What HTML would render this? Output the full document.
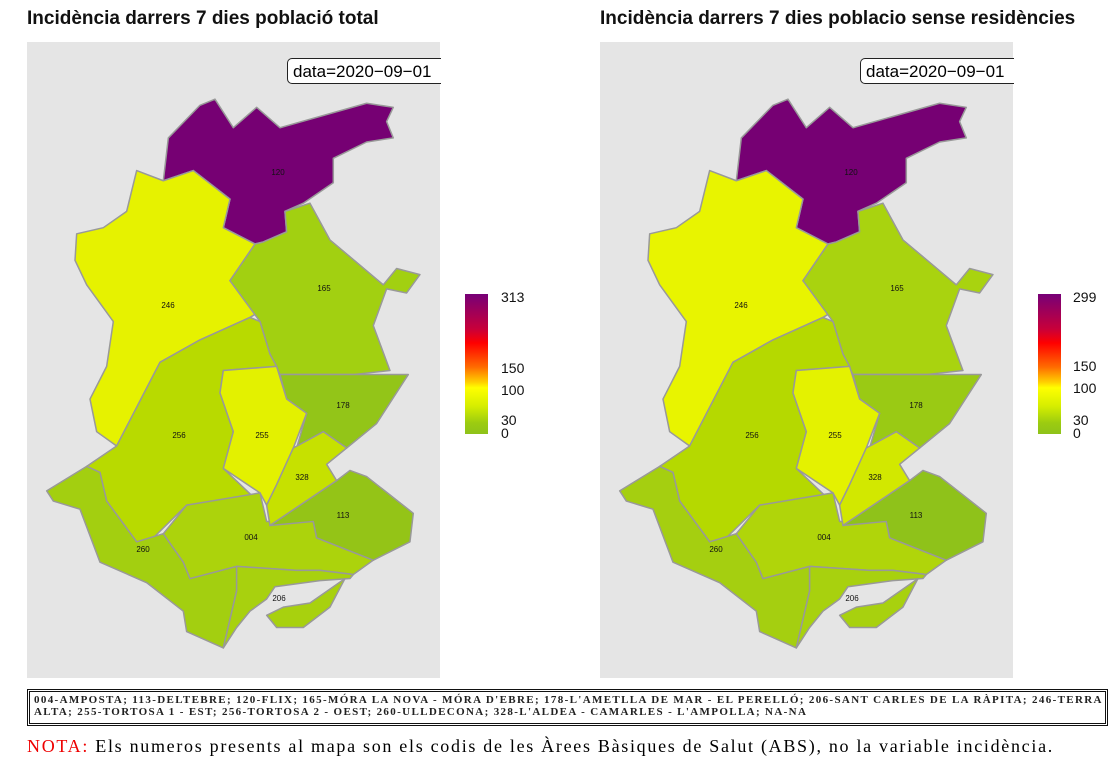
<!DOCTYPE html>
<html><head><meta charset="utf-8"><style>
body{margin:0;width:1114px;height:776px;background:#fff;position:relative;overflow:hidden;font-family:"Liberation Sans",sans-serif}
.t{position:absolute;top:8px;font-size:19px;font-weight:bold;color:#111}
.panel{position:absolute;top:42px;width:413px;height:636px;background:#e5e5e5}
.db{position:absolute;top:58px;height:26px;border:1.5px solid #222;border-right:none;border-radius:5px 0 0 5px;background:#fff;font-size:17px;line-height:25px;padding-left:5px;box-sizing:border-box;width:154px;white-space:nowrap;overflow:hidden}
.cb{position:absolute;top:294px;width:23px;height:140px;background:linear-gradient(to bottom,#770077 0%,#c8003a 25%,#ff0000 35%,#ff6a00 52%,#ffd000 63%,#ffff00 67%,#d6ee00 80%,#9ccc10 92%,#8ec21a 100%)}
.lb{position:absolute;font-size:14px;color:#111;line-height:14px}
.foot{position:absolute;left:27px;top:689px;width:1081px;height:37px;border:3px double #111;box-sizing:border-box;font-family:"Liberation Serif",serif;font-size:11px;line-height:11.5px;padding:3px 4px;letter-spacing:1.35px;white-space:nowrap;font-weight:bold;color:#222;overflow:hidden}
.nota{position:absolute;left:27px;top:736px;font-family:"Liberation Serif",serif;font-size:18px;letter-spacing:1.7px;white-space:nowrap}
svg{position:absolute;left:0;top:0}
</style></head><body>
<div class="t" style="left:27px">Incidència darrers 7 dies població total</div>
<div class="t" style="left:600px">Incidència darrers 7 dies poblacio sense residències</div>
<div class="panel" style="left:27px"></div>
<div class="panel" style="left:600px"></div>
<svg width="1114" height="776">
<g transform="translate(20,40) scale(0.3333,0.408)" stroke="#999" stroke-width="1.5" stroke-linejoin="round">
<polygon vector-effect="non-scaling-stroke" fill="#760073" points="430,345 445,240 540,160 585,145 640,215 710,165 780,215 1040,155 1120,165 1100,200 1120,240 1040,250 940,290 940,350 850,400 795,420 800,470 730,495 705,500 610,460 630,390 520,320"/>
<polygon vector-effect="non-scaling-stroke" fill="#e6f200" points="430,345 350,320 320,420 250,460 170,475 165,540 200,600 280,690 260,800 210,880 230,960 290,995 420,790 540,735 690,680 720,665 630,590 705,500 610,460 630,390 520,320"/>
<polygon vector-effect="non-scaling-stroke" fill="#a2d011" points="705,500 730,495 800,470 795,420 870,400 930,490 1090,600 1130,560 1200,575 1160,620 1100,610 1060,700 1110,810 1000,820 780,820 750,770 720,690 630,590"/>
<polygon vector-effect="non-scaling-stroke" fill="#b8da00" points="290,995 420,790 540,735 690,680 720,690 750,770 770,800 610,810 600,865 640,960 610,1050 700,1120 500,1140 400,1220 350,1230 260,1130 240,1060 200,1045"/>
<polygon vector-effect="non-scaling-stroke" fill="#93c518" points="780,820 1000,820 1165,820 1070,940 980,1000 910,960 830,1000 860,915 800,880"/>
<polygon vector-effect="non-scaling-stroke" fill="#e3f100" points="610,810 770,800 800,880 860,915 820,1000 770,1090 740,1140 720,1110 610,1050 640,960 600,865"/>
<polygon vector-effect="non-scaling-stroke" fill="#a3cf10" points="200,1045 110,1090 80,1105 100,1130 180,1150 240,1280 380,1330 490,1400 500,1450 610,1490 650,1350 650,1290 510,1320 490,1280 430,1210 350,1230 260,1130 240,1060"/>
<polygon vector-effect="non-scaling-stroke" fill="#acd30c" points="430,1210 500,1140 720,1110 740,1180 880,1180 890,1220 1060,1275 1000,1310 900,1300 830,1300 650,1290 510,1320 490,1280"/>
<polygon vector-effect="non-scaling-stroke" fill="#c6e100" points="770,1090 820,1000 910,960 980,1000 920,1040 950,1080 750,1190 740,1140"/>
<polygon vector-effect="non-scaling-stroke" fill="#94c417" points="950,1080 990,1055 1040,1070 1180,1160 1170,1230 1060,1275 890,1220 880,1180 750,1190"/>
<polygon vector-effect="non-scaling-stroke" fill="#a8d10e" points="650,1290 830,1300 900,1300 1000,1310 990,1320 900,1325 765,1340 740,1370 690,1400 650,1440 610,1490 650,1350"/>
<polygon vector-effect="non-scaling-stroke" fill="#a8d10e" points="740,1410 790,1390 870,1380 940,1340 975,1320 930,1390 850,1440 770,1440"/>
</g>
<g transform="translate(593,40) scale(0.3333,0.408)" stroke="#999" stroke-width="1.5" stroke-linejoin="round">
<polygon vector-effect="non-scaling-stroke" fill="#760073" points="430,345 445,240 540,160 585,145 640,215 710,165 780,215 1040,155 1120,165 1100,200 1120,240 1040,250 940,290 940,350 850,400 795,420 800,470 730,495 705,500 610,460 630,390 520,320"/>
<polygon vector-effect="non-scaling-stroke" fill="#e8f400" points="430,345 350,320 320,420 250,460 170,475 165,540 200,600 280,690 260,800 210,880 230,960 290,995 420,790 540,735 690,680 720,665 630,590 705,500 610,460 630,390 520,320"/>
<polygon vector-effect="non-scaling-stroke" fill="#a9d30f" points="705,500 730,495 800,470 795,420 870,400 930,490 1090,600 1130,560 1200,575 1160,620 1100,610 1060,700 1110,810 1000,820 780,820 750,770 720,690 630,590"/>
<polygon vector-effect="non-scaling-stroke" fill="#b5d900" points="290,995 420,790 540,735 690,680 720,690 750,770 770,800 610,810 600,865 640,960 610,1050 700,1120 500,1140 400,1220 350,1230 260,1130 240,1060 200,1045"/>
<polygon vector-effect="non-scaling-stroke" fill="#9aca14" points="780,820 1000,820 1165,820 1070,940 980,1000 910,960 830,1000 860,915 800,880"/>
<polygon vector-effect="non-scaling-stroke" fill="#e4f200" points="610,810 770,800 800,880 860,915 820,1000 770,1090 740,1140 720,1110 610,1050 640,960 600,865"/>
<polygon vector-effect="non-scaling-stroke" fill="#a5cf10" points="200,1045 110,1090 80,1105 100,1130 180,1150 240,1280 380,1330 490,1400 500,1450 610,1490 650,1350 650,1290 510,1320 490,1280 430,1210 350,1230 260,1130 240,1060"/>
<polygon vector-effect="non-scaling-stroke" fill="#b0d50a" points="430,1210 500,1140 720,1110 740,1180 880,1180 890,1220 1060,1275 1000,1310 900,1300 830,1300 650,1290 510,1320 490,1280"/>
<polygon vector-effect="non-scaling-stroke" fill="#d2e800" points="770,1090 820,1000 910,960 980,1000 920,1040 950,1080 750,1190 740,1140"/>
<polygon vector-effect="non-scaling-stroke" fill="#8fc21a" points="950,1080 990,1055 1040,1070 1180,1160 1170,1230 1060,1275 890,1220 880,1180 750,1190"/>
<polygon vector-effect="non-scaling-stroke" fill="#a8d10e" points="650,1290 830,1300 900,1300 1000,1310 990,1320 900,1325 765,1340 740,1370 690,1400 650,1440 610,1490 650,1350"/>
<polygon vector-effect="non-scaling-stroke" fill="#a8d10e" points="740,1410 790,1390 870,1380 940,1340 975,1320 930,1390 850,1440 770,1440"/>
</g>
<g font-family="Liberation Sans,sans-serif" font-size="8" fill="#111" text-anchor="middle">
<text x="278" y="175">120</text><text x="168" y="308">246</text><text x="324" y="291">165</text>
<text x="179" y="438">256</text><text x="262" y="438">255</text><text x="343" y="408">178</text>
<text x="302" y="480">328</text><text x="343" y="518">113</text><text x="251" y="540">004</text>
<text x="143" y="552">260</text><text x="279" y="601">206</text>
<g transform="translate(573,0)">
<text x="278" y="175">120</text><text x="168" y="308">246</text><text x="324" y="291">165</text>
<text x="179" y="438">256</text><text x="262" y="438">255</text><text x="343" y="408">178</text>
<text x="302" y="480">328</text><text x="343" y="518">113</text><text x="251" y="540">004</text>
<text x="143" y="552">260</text><text x="279" y="601">206</text>
</g>
</g>
</svg>
<div class="db" style="left:287px">data=2020−09−01</div>
<div class="db" style="left:860px">data=2020−09−01</div>
<div class="cb" style="left:465px"></div>
<div class="lb" style="left:501px;top:290px">313</div>
<div class="lb" style="left:501px;top:361px">150</div>
<div class="lb" style="left:501px;top:383px">100</div>
<div class="lb" style="left:501px;top:413px">30</div>
<div class="lb" style="left:501px;top:426px">0</div>
<div class="cb" style="left:1038px"></div>
<div class="lb" style="left:1073px;top:290px">299</div>
<div class="lb" style="left:1073px;top:359px">150</div>
<div class="lb" style="left:1073px;top:381px">100</div>
<div class="lb" style="left:1073px;top:413px">30</div>
<div class="lb" style="left:1073px;top:426px">0</div>
<div class="foot">004-AMPOSTA; 113-DELTEBRE; 120-FLIX; 165-MÓRA LA NOVA - MÓRA D'EBRE; 178-L'AMETLLA DE MAR - EL PERELLÓ; 206-SANT CARLES DE LA RÀPITA; 246-TERRA<br>ALTA; 255-TORTOSA 1 - EST; 256-TORTOSA 2 - OEST; 260-ULLDECONA; 328-L'ALDEA - CAMARLES - L'AMPOLLA; NA-NA</div>
<div class="nota"><span style="color:#e00">NOTA:</span> Els numeros presents al mapa son els codis de les Àrees Bàsiques de Salut (ABS), no la variable incidència.</div>
</body></html>
